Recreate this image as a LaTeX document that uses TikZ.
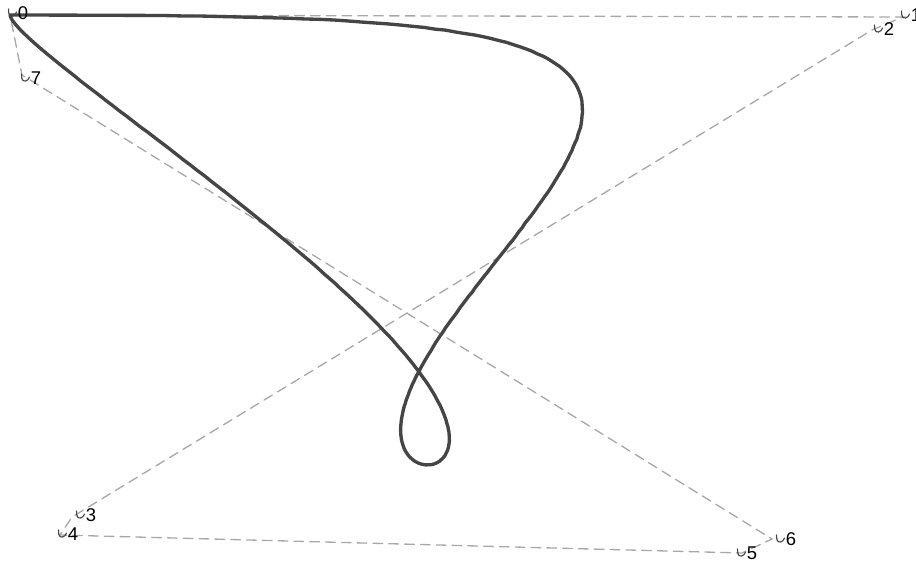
\documentclass[tikz,border=0pt]{standalone}
\usepackage{fontspec}
\setsansfont{Liberation Sans}
\usetikzlibrary{positioning}
\definecolor{curvec}{HTML}{454545}
\definecolor{polyc}{HTML}{A8A8A8}

\begin{document}
\begin{tikzpicture}[x=0.02cm, y=-0.02cm, line cap=round,
    declare function={bz(\t,\a,\b,\c,\d,\e,\f,\g,\h)=(1-\t)^8*\a+8*(1-\t)^7*\t*\b
      +28*(1-\t)^6*\t^2*\c+56*(1-\t)^5*\t^3*\d+70*(1-\t)^4*\t^4*\e
      +56*(1-\t)^3*\t^5*\f+28*(1-\t)^2*\t^6*\g+8*(1-\t)*\t^7*\h+\t^8*\a;}]
  \useasboundingbox (0,0) rectangle (916,563);
  % control points
  \coordinate (p0) at (10,15);
  \coordinate (p1) at (903,17);
  \coordinate (p2) at (872,30);
  \coordinate (p3) at (72,517);
  \coordinate (p4) at (60,535);
  \coordinate (p5) at (742,553);
  \coordinate (p6) at (772,539);
  \coordinate (p7) at (22,75);
  % control polygon
  \draw[polyc, line width=0.75pt, dash pattern=on 5.5pt off 3.5pt]
    (p0) -- (p1) -- (p2) -- (p3) -- (p4) -- (p5) -- (p6) -- (p7) -- cycle;
  % curve
  \draw[curvec, line width=1.9pt, line join=round]
    plot[domain=0:1, samples=300, variable=\t]
    ({bz(\t,10,903,872,72,60,742,772,22)}, {bz(\t,15,17,30,517,535,553,539,75)});
  % labels
  \foreach \i/\dx/\dy in {0/13/-2, 1/13/-2, 2/17/-1, 3/19/-2, 4/13/-1, 5/10/0, 6/19/0, 7/14/3} {
    \node[font=\sffamily\fontsize{10.5}{11}\selectfont, inner sep=0pt] (l\i)
      at ([shift={(\dx,\dy)}]p\i) {\i};
    \draw[curvec, line width=0.65pt] ([shift={(-9,-4)}]l\i.west)
      .. controls +(0,6) and +(-3,0) .. ([shift={(-5,3)}]l\i.west)
      .. controls +(2,0) and +(-1,2) .. ([shift={(-1,-1)}]l\i.west);
  }
\end{tikzpicture}
\end{document}
